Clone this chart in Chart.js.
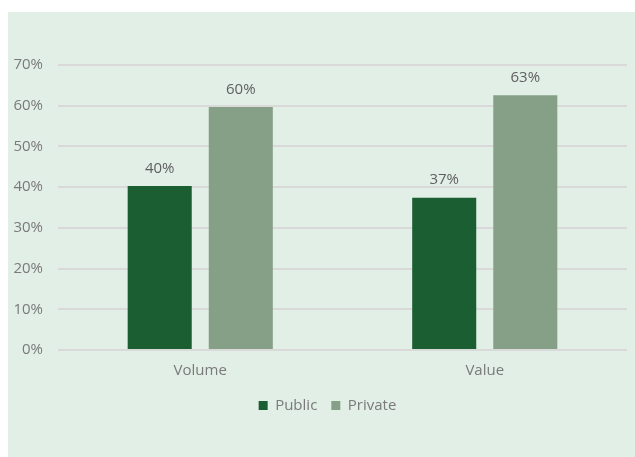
<!DOCTYPE html>
<html lang="en">
<head>
    <meta charset="UTF-8">
    <title>Public vs Private</title>
    <script src="https://cdn.jsdelivr.net/npm/chart.js"></script>
    <style>
        body { margin: 0; background: #ffffff; }
        #box {
            position: absolute;
            left: 8px; top: 12px;
            width: 627px; height: 445px;
            background: #e1efe6;
        }
    </style>
</head>
<body>

<div id="box">
    <canvas id="myChart" width="627" height="445"></canvas>
</div>

<script>
// data
const categories = ['Volume', 'Value'];
const publicShare = [40.3, 37.4];
const privateShare = [59.7, 62.6];
const yTicks = [0, 10, 20, 30, 40, 50, 60, 70];

const textGrey = '#7a7a7a';
const gridGrey = '#d9d9d9';

// draws the % value above each bar
const barLabels = {
    id: 'barLabels',
    afterDatasetsDraw(chart) {
        const ctx = chart.ctx;
        ctx.save();
        ctx.font = '15px "Open Sans"';
        ctx.fillStyle = '#5f5f5f';
        ctx.textAlign = 'center';
        ctx.textBaseline = 'bottom';
        chart.data.datasets.forEach((ds, i) => {
            chart.getDatasetMeta(i).data.forEach((bar, j) => {
                ctx.fillText(Math.round(ds.data[j]) + '%', bar.x, bar.y - 10);
            });
        });
        ctx.restore();
    }
};

// nudge the legend a bit right, like the original
const legendShift = {
    id: 'legendShift',
    afterLayout(chart) {
        chart.legend.left += 10;
        chart.legend.right += 10;
    }
};

const ctx = document.getElementById('myChart');
new Chart(ctx, {
    type: 'bar',
    data: {
        labels: categories,
        datasets: [{
            label: 'Public',
            data: publicShare,
            backgroundColor: '#1b5e32',
            categoryPercentage: 0.57,
            barPercentage: 0.79
        }, {
            label: 'Private',
            data: privateShare,
            backgroundColor: '#86a087',
            categoryPercentage: 0.57,
            barPercentage: 0.79
        }]
    },
    options: {
        responsive: false,
        animation: false,
        layout: {
            padding: { top: 53, right: 8, bottom: 34, left: 0 }
        },
        plugins: {
            legend: {
                position: 'bottom',
                labels: {
                    boxWidth: 9,
                    boxHeight: 9,
                    color: textGrey,
                    font: { family: '"Open Sans"', size: 15 },
                    padding: 14
                }
            },
            tooltip: { enabled: false }
        },
        scales: {
            x: {
                grid: { display: false },
                border: { display: false },
                ticks: {
                    color: textGrey,
                    padding: 4,
                    font: { family: '"Open Sans"', size: 15 }
                }
            },
            y: {
                min: 0,
                max: 70,
                afterFit(scale) { scale.width = 50; },
                afterBuildTicks(scale) {
                    scale.ticks = yTicks.map(v => ({ value: v }));
                },
                grid: { color: gridGrey, lineWidth: 2, drawTicks: false },
                border: { display: false },
                ticks: {
                    color: textGrey,
                    padding: 15,
                    font: { family: '"Open Sans"', size: 15 },
                    callback: v => v + '%'
                }
            }
        }
    },
    plugins: [barLabels, legendShift]
});
</script>
</body>
</html>
